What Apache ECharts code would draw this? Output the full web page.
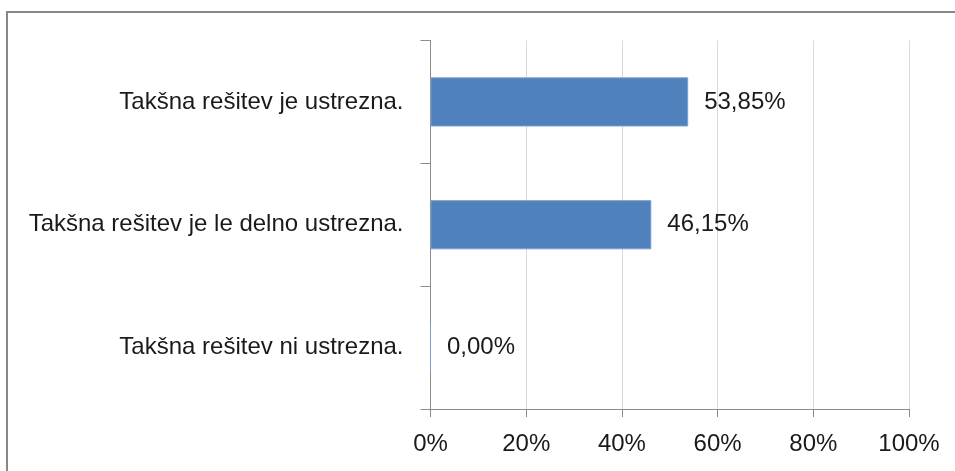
<!DOCTYPE html>
<html>
<head>
<meta charset="utf-8">
<script src="https://cdn.jsdelivr.net/npm/echarts@6/dist/echarts.min.js"></script>
<style>
  html, body { margin: 0; padding: 0; background: #fff; }
  #chart { width: 955px; height: 471px; }
</style>
</head>
<body>
<div id="chart"></div>
<script>
// kategorije od zgoraj navzdol
const categories = [
  "Takšna rešitev je ustrezna.",
  "Takšna rešitev je le delno ustrezna.",
  "Takšna rešitev ni ustrezna.",
];
const shares = [53.85, 46.15, 0];
const tickValues = [0, 20, 40, 60, 80, 100];

const fontFamily = "Liberation Sans";
const chart = echarts.init(document.getElementById("chart"));

chart.setOption({
  animation: false,
  graphic: [
    {
      type: "rect",
      shape: { x: 7, y: 12, width: 1000, height: 500 },
      style: { fill: "none", stroke: "#878787", lineWidth: 2 },
      silent: true,
    },
  ],
  grid: { left: 430.5, right: 46, top: 40.5, bottom: 62 },
  xAxis: {
    type: "value",
    min: tickValues[0],
    max: tickValues[tickValues.length - 1],
    interval: 20,
    axisLine: { show: true, lineStyle: { color: "#8c8c8c", width: 1 } },
    axisTick: { show: true, length: 8, lineStyle: { color: "#8c8c8c" } },
    splitLine: { show: true, lineStyle: { color: "#d9d9d9", width: 1 } },
    axisLabel: {
      margin: 23,
      color: "#1a1a1a",
      fontFamily: fontFamily,
      fontSize: 24,
      formatter: (v) => v + "%",
    },
  },
  yAxis: {
    type: "category",
    data: categories,
    inverse: true,
    axisLine: { show: true, lineStyle: { color: "#8c8c8c", width: 1 } },
    axisTick: { show: true, length: 10, lineStyle: { color: "#8c8c8c" } },
    axisLabel: {
      margin: 27,
      color: "#1a1a1a",
      fontFamily: fontFamily,
      fontSize: 24,
    },
  },
  series: [
    {
      type: "bar",
      data: shares,
      barWidth: "40%",
      itemStyle: { color: "#4f81bd", borderColor: "#7a9fcf", borderWidth: 1 },
      label: {
        show: true,
        position: "right",
        distance: 16,
        color: "#1a1a1a",
        fontFamily: fontFamily,
        fontSize: 24,
        formatter: (p) => p.value.toFixed(2).replace(".", ",") + "%",
      },
    },
  ],
});
</script>
</body>
</html>
